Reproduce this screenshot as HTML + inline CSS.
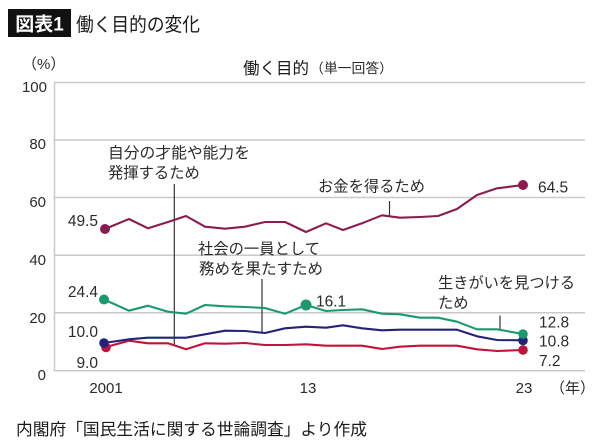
<!DOCTYPE html>
<html>
<head>
<meta charset="utf-8">
<style>
html,body{margin:0;padding:0;background:#fff;}
svg{display:block;}
text{font-family:"Liberation Sans","Noto Sans CJK JP",sans-serif;fill:#2b2b2b;}
</style>
</head>
<body>
<svg width="600" height="443" viewBox="0 0 600 443" xmlns="http://www.w3.org/2000/svg">
<rect x="0" y="0" width="600" height="443" fill="#fff"/>
<!-- title -->
<rect x="8" y="9" width="63" height="28" fill="#111"/>
<text x="39.5" y="30.5" text-anchor="middle" style="fill:#fff;font-size:19px;font-weight:bold;">図表1</text>
<text x="76" y="31" style="font-size:19px;fill:#1a1a1a;" textLength="124" lengthAdjust="spacingAndGlyphs">働く目的の変化</text>

<text x="22" y="69" style="font-size:15px;">（%）</text>
<text x="243" y="74" style="font-size:16.5px;fill:#1a1a1a;">働く目的</text>
<text x="310" y="73" style="font-size:13.5px;" textLength="83" lengthAdjust="spacingAndGlyphs">（単一回答）</text>

<!-- grid -->
<g stroke="#c9c9c9" stroke-width="1.5" fill="none">
<line x1="54" y1="82.5" x2="585" y2="82.5"/>
<line x1="54" y1="140" x2="585" y2="140"/>
<line x1="54" y1="197.5" x2="585" y2="197.5"/>
<line x1="54" y1="255.2" x2="585" y2="255.2"/>
<line x1="54" y1="312.8" x2="585" y2="312.8"/>
<line x1="54" y1="370.7" x2="585" y2="370.7"/>
<line x1="54.5" y1="82" x2="54.5" y2="371.4"/>
</g>

<!-- y ticks -->
<g style="font-size:15px;" text-anchor="end">
<text x="47" y="92">100</text>
<text x="46" y="149">80</text>
<text x="46" y="207">60</text>
<text x="46" y="265">40</text>
<text x="46" y="323">20</text>
<text x="46" y="380">0</text>
</g>
<!-- x ticks -->
<g style="font-size:15px;" text-anchor="middle">
<text x="106" y="393">2001</text>
<text x="308" y="393">13</text>
<text x="524" y="393">23</text>
</g>
<text x="550" y="393" style="font-size:15px;">（年）</text>

<!-- annotation leader lines -->
<g stroke="#333" stroke-width="1.2">
<line x1="174.3" y1="184" x2="174.3" y2="345"/>
<line x1="262" y1="279" x2="262" y2="332"/>
<line x1="389.5" y1="201" x2="389.5" y2="216"/>
<line x1="500" y1="315.5" x2="500" y2="329.5"/>
</g>

<!-- series -->
<g fill="none" stroke-width="2.1" stroke-linejoin="round" stroke-linecap="round">
<polyline stroke="#c0143c" points="106,347 129,340.7 148,343.3 168,343.3 186,349.3 205,343.3 225,343.7 245,343 265,345 285,345 306,344.3 326,345.7 343,345.7 362,345.7 382,349 400,346.7 420,345.7 438,345.7 457,345.7 477,349.3 497,351 523,350"/>
<polyline stroke="#23237a" points="104,343 129,339.3 148,337.7 168,337.7 186,337.7 205,334.3 225,330.7 245,331 265,333 285,328.3 306,326.7 326,327.7 343,325.3 362,328.3 382,330.3 400,329.7 420,329.7 438,329.7 457,329.7 477,336.3 497,340 523,340.3"/>
<polyline stroke="#1a9a6a" points="104,299.5 129,310.7 148,305.7 168,311.7 186,313.7 205,305 225,306.3 245,307 265,308 285,313.7 306,305 326,311 343,310 362,309.3 382,313.7 400,314.3 420,317.7 438,317.7 457,321.7 477,329.3 497,329.3 523,334"/>
<polyline stroke="#8c1c50" points="105,229 129,219 148,228.3 168,222 186,216 205,226.7 225,228.7 245,226.7 265,222 285,222 306,232 326,223.3 343,230 362,223.3 382,215.3 400,217.7 420,217 438,216 457,209 477,195 497,188.3 523,185"/>
</g>
<!-- dots -->
<circle cx="106" cy="347.5" r="4.8" fill="#c0143c"/>
<circle cx="104" cy="343" r="4.8" fill="#23237a"/>
<circle cx="104" cy="299.5" r="5" fill="#1a9a6a"/>
<circle cx="105" cy="229" r="5" fill="#8c1c50"/>
<circle cx="306" cy="305" r="5.5" fill="#1a9a6a"/>
<circle cx="523" cy="185" r="5" fill="#8c1c50"/>
<circle cx="523" cy="350" r="4.8" fill="#c0143c"/>
<circle cx="523" cy="340.5" r="4.8" fill="#23237a"/>
<circle cx="523" cy="334" r="4.8" fill="#1a9a6a"/>

<!-- data labels -->
<g style="font-size:15.5px;" text-anchor="end">
<text x="98" y="226">49.5</text>
<text x="98" y="297">24.4</text>
<text x="98" y="337">10.0</text>
<text x="98" y="368">9.0</text>
</g>
<g style="font-size:15.5px;">
<text x="538" y="192.5">64.5</text>
<text x="316" y="306.5">16.1</text>
<text x="539" y="327.5">12.8</text>
<text x="539" y="346.5">10.8</text>
<text x="539" y="366">7.2</text>
</g>

<!-- annotations -->
<g style="font-size:15.3px;">
<text x="108" y="158" textLength="142" lengthAdjust="spacingAndGlyphs">自分の才能や能力を</text>
<text x="108" y="178">発揮するため</text>
<text x="318" y="191.5" textLength="107" lengthAdjust="spacingAndGlyphs">お金を得るため</text>
<text x="198" y="254" textLength="122" lengthAdjust="spacingAndGlyphs">社会の一員として</text>
<text x="199" y="274" textLength="124" lengthAdjust="spacingAndGlyphs">務めを果たすため</text>
<text x="438" y="288" textLength="137" lengthAdjust="spacingAndGlyphs">生きがいを見つける</text>
<text x="438" y="308">ため</text>
</g>

<!-- source -->
<text x="16" y="435" style="font-size:16.5px;fill:#1a1a1a;" textLength="351" lengthAdjust="spacingAndGlyphs">内閣府「国民生活に関する世論調査」より作成</text>
</svg>
</body>
</html>
